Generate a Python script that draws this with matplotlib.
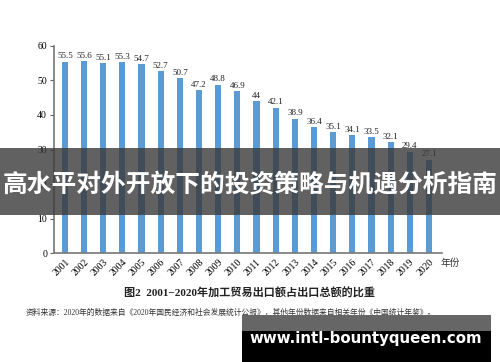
import matplotlib.pyplot as plt
from matplotlib.patches import Rectangle

years = [str(y) for y in range(2001, 2021)]
shares = [55.5, 55.6, 55.1, 55.3, 54.7, 52.7, 50.7, 47.2, 48.8, 46.9,
          44, 42.1, 38.9, 36.4, 35.1, 34.1, 33.5, 32.1, 29.4, 27.1]
yticks = [0, 10, 20, 30, 40, 50, 60]

serif = ['Liberation Serif', 'Noto Sans CJK SC']
cjk = ['Noto Sans CJK SC', 'DejaVu Sans']

fig = plt.figure(figsize=(5, 3.62), dpi=100)
ax = fig.add_axes([0.108, 0.301, 0.776, 0.572])

x = range(len(years))
ax.bar(x, shares, width=0.32, color='#5b9bd5', zorder=2)
for i, v in zip(x, shares):
    lab = f"{v:g}"
    ax.text(i, v + 0.4, lab, ha='center', va='bottom', fontsize=6.5,
            family=serif, color='#222222')

ax.set_xlim(-0.57, 19.68)
ax.set_ylim(0, 60)
ax.set_yticks(yticks)
ax.set_yticklabels([str(t) for t in yticks], family=serif, fontsize=7)
ax.set_xticks(list(x))
ax.set_xticklabels(years, rotation=45, ha='right', rotation_mode='anchor',
                   family=serif, fontsize=7)
ax.tick_params(axis='x', length=0, pad=3)
ax.tick_params(axis='y', length=3, direction='out', color='#666666', pad=2)
for s in ['top', 'right']:
    ax.spines[s].set_visible(False)
for s in ['left', 'bottom']:
    ax.spines[s].set_color('#777777')
    ax.spines[s].set_linewidth(1.2)

fig.text(0.9, 0.273, '年份', family=serif, fontsize=7, color='#333333',
         ha='center', va='center')

fig.text(0.5, 0.19, '图2  2001−2020年加工贸易出口额占出口总额的比重',
         family=serif, fontsize=8, weight='bold', ha='center', va='center',
         color='#222222')
fig.text(0.462, 0.135,
         '资料来源：2020年的数据来自《2020年国民经济和社会发展统计公报》，其他年份数据来自相关年份《中国统计年鉴》。',
         family=serif, fontsize=5.6, ha='center', va='center', color='#333333')

# overlay banner
fig.patches.append(Rectangle((0, 1 - 215 / 362), 1, 67 / 362, transform=fig.transFigure,
                             facecolor='#3a3a3a', alpha=0.8, zorder=5))
fig.text(0.5, 1 - 185 / 362, '高水平对外开放下的投资策略与机遇分析指南', family=cjk,
         fontsize=17.8, weight='bold', color='white', ha='center', va='center', zorder=6)

# watermark box
fig.patches.append(Rectangle((242 / 500, 0), 249 / 500, 31 / 362, transform=fig.transFigure,
                             facecolor='black', zorder=5))
fig.patches.append(Rectangle((242 / 500, 31 / 362), 249 / 500, 16 / 362, transform=fig.transFigure,
                             facecolor='#666666', zorder=5))
fig.text(366 / 500, 1 - 338 / 362, 'www.intl-bountyqueen.com', family=['DejaVu Sans'],
         fontsize=10.8, weight='bold', color='white', ha='center', va='center', zorder=6)

fig.savefig('out.png', dpi=100)
